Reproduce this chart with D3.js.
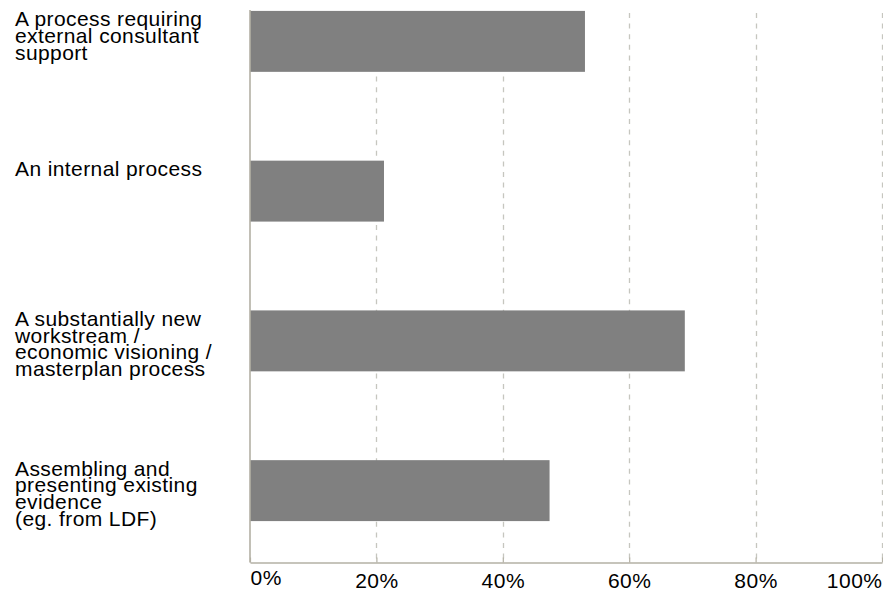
<!DOCTYPE html>
<html>
<head>
<meta charset="utf-8">
<script src="https://cdn.jsdelivr.net/npm/d3@7"></script>
<style>
  html, body { margin: 0; padding: 0; background: #ffffff; }
  svg { display: block; }
  text { font-family: "Liberation Sans", Arial, sans-serif; fill: #000; }
</style>
</head>
<body>
<svg id="chart" width="883" height="590"></svg>
<script>
// ---- data ----
const categories = [
  "A process requiring\nexternal consultant\nsupport",
  "An internal process",
  "A substantially new\nworkstream /\neconomic visioning /\nmasterplan process",
  "Assembling and\npresenting existing\nevidence\n(eg. from LDF)"
];
const values = [53.0, 21.2, 68.8, 47.4];
const tickValues = [0, 20, 40, 60, 80, 100];
const tickLabels = ["0%", "20%", "40%", "60%", "80%", "100%"];

// ---- layout ----
const baseY = 562.5;
const plotTop = 10;
const svg = d3.select("#chart");

const x = d3.scaleLinear().domain([0, 100]).range([250, 882]);
const y = d3.scaleBand().domain(categories).range([-33.5, 565.5])
  .paddingInner(0.593).paddingOuter(0.2965);

// gridlines
svg.append("g").selectAll("line")
  .data(tickValues.filter(d => d > 0))
  .join("line")
  .attr("x1", d => Math.round(x(d)) + 0.5)
  .attr("x2", d => Math.round(x(d)) + 0.5)
  .attr("y1", 13)
  .attr("y2", baseY)
  .attr("stroke", "#c6c6bf")
  .attr("stroke-width", 1.3)
  .attr("stroke-dasharray", "5,5.6");

// bars
svg.append("g").selectAll("rect")
  .data(values)
  .join("rect")
  .attr("x", x(0))
  .attr("y", (d, i) => y(categories[i]))
  .attr("width", d => x(d) - x(0))
  .attr("height", y.bandwidth())
  .attr("fill", "#808080");

// bottom axis
const xAxis = d3.axisBottom(x)
  .tickValues(tickValues)
  .tickFormat((d, i) => tickLabels[i])
  .tickSize(-5)
  .tickSizeOuter(0);
const gx = svg.append("g").attr("transform", `translate(0,${baseY})`).call(xAxis);
gx.select(".domain").attr("stroke", "#b3b0a4").attr("stroke-width", 1.5);
gx.selectAll(".tick line").attr("stroke", "#b3b0a4").attr("stroke-width", 1.2);
gx.selectAll(".tick text")
  .attr("y", (d, i) => i === 0 ? 22.5 : 25)
  .attr("dy", null)
  .attr("font-size", 21)
  .attr("letter-spacing", 0.5)
  .attr("font-family", "Liberation Sans, Arial, sans-serif")
  .attr("fill", "#000")
  .attr("text-anchor", (d, i) => i === 0 ? "start" : (i === tickValues.length - 1 ? "end" : "middle"));

// vertical axis line
svg.append("line")
  .attr("x1", 250).attr("x2", 250)
  .attr("y1", plotTop).attr("y2", baseY)
  .attr("stroke", "#b3b0a4").attr("stroke-width", 1.6);

// category labels via left axis
const yAxis = d3.axisLeft(y).tickSize(0).tickFormat("");
const gy = svg.append("g").call(yAxis);
gy.select(".domain").remove();
gy.selectAll(".tick").each(function(d) {
  const g = d3.select(this);
  g.select("text").remove();
  const lines = d.split("\n");
  const t = g.append("text")
    .attr("font-size", 21)
    .attr("letter-spacing", 0.4)
    .attr("text-anchor", "start")
    .attr("fill", "#000");
  // tick group sits at the band centre; first baseline just below the bar top
  const top = -y.bandwidth() / 2 + 15.5;
  lines.forEach((ln, k) => {
    t.append("tspan").attr("x", 15).attr("y", top + k * 16.7).text(ln);
  });
});
</script>
</body>
</html>
